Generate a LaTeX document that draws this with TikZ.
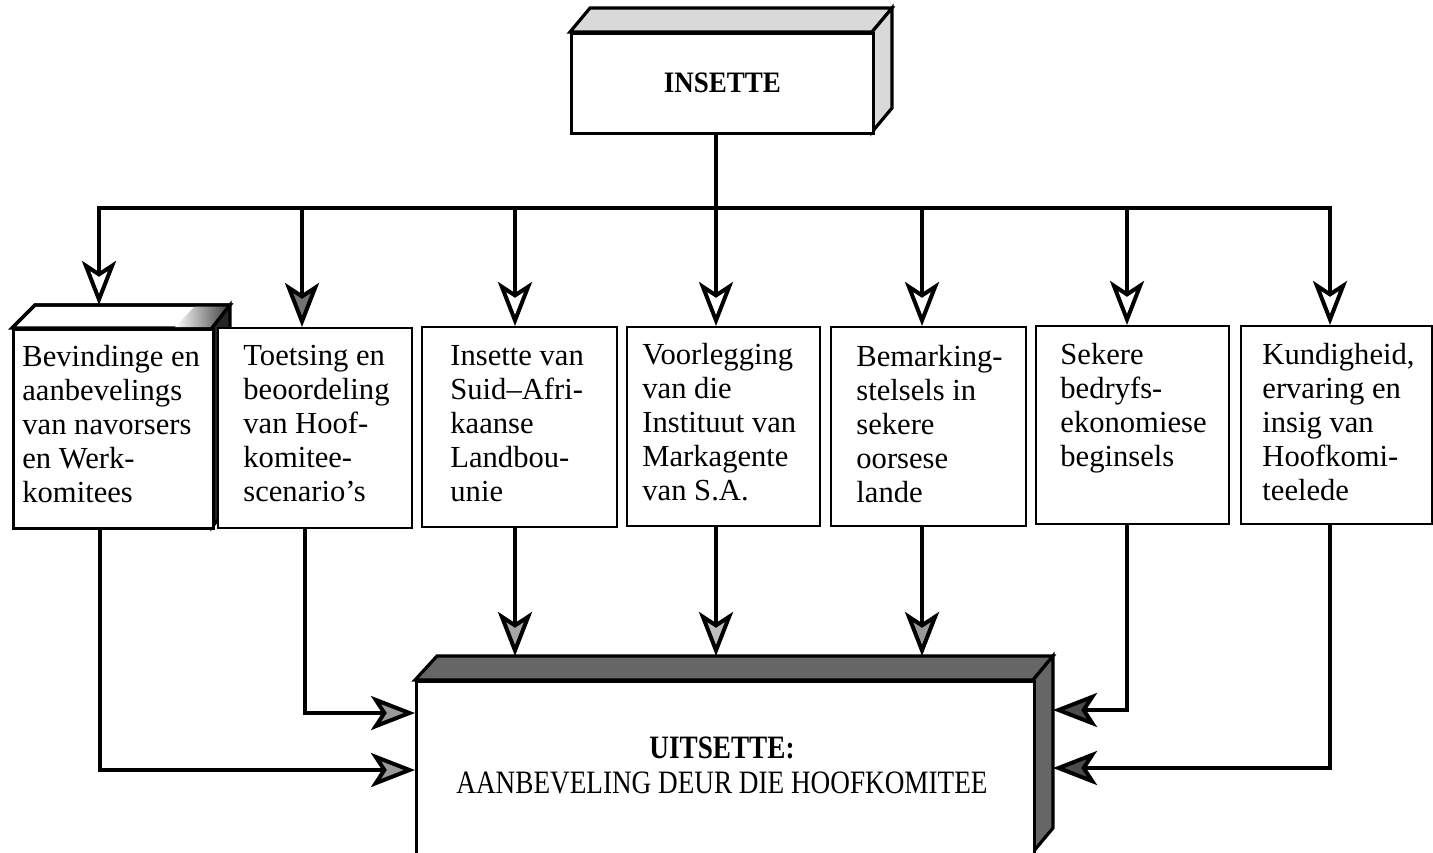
\documentclass[tikz,border=0pt]{standalone}
\usepackage{fontspec}
\setmainfont{Liberation Serif}
\usepackage{graphicx}
\usetikzlibrary{arrows.meta}
\begin{document}
\begin{tikzpicture}[x=0.5pt,y=-0.5pt,line join=miter,
  box/.style={draw,line width=1pt,fill=white,inner sep=0pt,anchor=north west},
  face/.style={draw,line width=1.6pt},
  btxt/.style={anchor=north west,inner sep=0pt,align=left,font=\fontsize{15.3}{17}\selectfont},
  conn/.style={line width=2pt},
  arr/.style={line width=2pt,-{Stealth[length=22pt,width=17pt,inset=5.5pt,fill=#1]}}]
\useasboundingbox (0,0) rectangle (1433,852);
\clip (0,0) rectangle (1433,852);

% ---------- INSETTE (3D) ----------
\filldraw[face,fill=black!15] (570,32) -- (590,8) -- (892,8) -- (872,32) -- cycle;
\filldraw[face,fill=black!15] (872,32) -- (892,8) -- (892,108) -- (872,132) -- cycle;
\node[box,line width=1.3pt,minimum width=151pt,minimum height=50pt,
      font=\bfseries\fontsize{13.5}{16}\selectfont] (ins) at (570,32) {\scalebox{1}[1.1]{INSETTE}};

% ---------- box 1 (3D) ----------
\filldraw[face,fill=white] (12,328) -- (35,305) -- (230,305) -- (212,328) -- cycle;
\shade[left color=white,right color=black!75] (175,327) -- (195,306) -- (229,306) -- (212,327) -- cycle;
\draw[face] (12,328) -- (35,305) -- (230,305) -- (212,328);
\filldraw[face,fill=black!85] (212,328) -- (230,305) -- (230,505) -- (212,527) -- cycle;
\node[box,line width=1.3pt,minimum width=100pt,minimum height=99.5pt] (b1) at (12,328) {};

% ---------- boxes 2..7 ----------
\node[box,minimum width=97pt,minimum height=100pt] (b2) at (217,327) {};
\node[box,minimum width=97.5pt,minimum height=100pt] (b3) at (421,326) {};
\node[box,minimum width=96.5pt,minimum height=99.5pt] (b4) at (626,326) {};
\node[box,minimum width=97.5pt,minimum height=99.5pt] (b5) at (830,326) {};
\node[box,minimum width=96.5pt,minimum height=99pt] (b6) at (1035,325) {};
\node[box,minimum width=95.5pt,minimum height=99pt] (b7) at (1240,325) {};

\node[btxt] (t1) at (22,345) {Bevindinge en\\aanbevelings\\van navorsers\\en Werk-\\komitees};
\node[btxt] (t2) at (243,345) {Toetsing en\\beoordeling\\van Hoof-\\komitee-\\scenario’s};
\node[btxt] (t3) at (450,345) {Insette van\\Suid–Afri-\\kaanse\\Landbou-\\unie};
\node[btxt] (t4) at (642,343) {Voorlegging\\van die\\Instituut van\\Markagente\\van S.A.};
\node[btxt] (t5) at (856,345) {Bemarking-\\stelsels in\\sekere\\oorsese\\lande};
\node[btxt] (t6) at (1060,343) {Sekere\\bedryfs-\\ekonomiese\\beginsels};
\node[btxt] (t7) at (1262,343) {Kundigheid,\\ervaring en\\insig van\\Hoofkomi-\\teelede};

% ---------- UITSETTE (3D) ----------
\filldraw[face,fill=black!60] (415,680) -- (437,656) -- (1053,656) -- (1033,680) -- cycle;
\filldraw[face,fill=black!60] (1033,680) -- (1053,656) -- (1053,828) -- (1033,852) -- cycle;
\node[box,line width=1.3pt,minimum width=309pt,minimum height=110pt] (uit) at (415,680) {};
\node[align=center,inner sep=0pt,font=\fontsize{13.6}{17.5}\selectfont] (ut) at (722,765)
  {\scalebox{1}[1.2]{\textbf{UITSETTE:}}\\\scalebox{1}[1.2]{AANBEVELING DEUR DIE HOOFKOMITEE}};
\coordinate (uittop) at (437,656);
\coordinate (uitright) at (1053,656);

% ---------- connectors ----------
\coordinate (bus) at (716,208);
\coordinate (b1top) at (99,305);
\draw[conn] (ins.south -| bus) -- (bus);
\draw[arr=white] (bus) -| (b1top);
\draw[arr=black!55] (bus) -| (b2.north -| 302,0);
\draw[arr=white] (bus) -| (b3.north -| 515,0);
\draw[arr=white] (bus) -- (b4.north -| bus);
\draw[arr=white] (bus) -| (b5.north -| 922,0);
\draw[arr=white] (bus) -| (b6.north -| 1127,0);
\draw[arr=white] (bus) -| (b7.north -| 1330,0);

\draw[arr=black!35] (b3.south -| 515,0) -- (uittop -| 515,0);
\draw[arr=black!25] (b4.south -| 716,0) -- (uittop -| 716,0);
\draw[arr=black!40] (b5.south -| 922,0) -- (uittop -| 922,0);

\draw[arr=black!40] (b1.south -| 100,0) |- (uit.west |- 0,770);
\draw[arr=black!40] (b2.south -| 305,0) |- (uit.west |- 0,713);
\draw[arr=black!70] (b6.south -| 1127,0) |- (uitright |- 0,710);
\draw[arr=black!70] (b7.south -| 1330,0) |- (uitright |- 0,768);
\end{tikzpicture}
\end{document}
